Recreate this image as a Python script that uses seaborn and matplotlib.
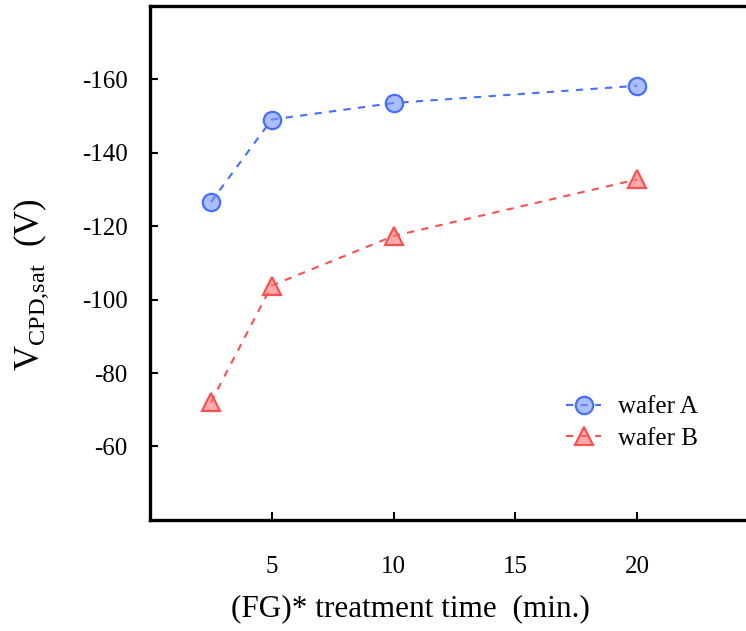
import matplotlib
matplotlib.use("Agg")
import matplotlib.pyplot as plt
import seaborn as sns
import pandas as pd

# Saturated contact potential difference vs. treatment time
time_a = [2.5, 5, 10, 20]
vcpd_a = [-126.5, -149.0, -153.5, -158.2]
time_b = [2.5, 5, 10, 20]
vcpd_b = [-72.0, -103.8, -117.3, -132.7]
x_ticks = [5, 10, 15, 20]
y_ticks = [-160, -140, -120, -100, -80, -60]

sns.set_theme(style="white")
plt.rcParams["font.family"] = ["Liberation Serif", "DejaVu Serif"]
plt.rcParams["mathtext.fontset"] = "custom"
plt.rcParams["mathtext.rm"] = "Liberation Serif"
plt.rcParams["axes.unicode_minus"] = False
plt.rcParams["text.color"] = "black"
plt.rcParams["axes.labelcolor"] = "black"

fig = plt.figure(figsize=(7.46, 6.31), dpi=100)
ax = fig.add_axes([0.201, 0.176, 0.80, 0.815])

df_a = pd.DataFrame({"t": time_a, "v": vcpd_a})
df_b = pd.DataFrame({"t": time_b, "v": vcpd_b})

blue = "#4670fa"
red = "#fa5050"

sns.lineplot(data=df_a, x="t", y="v", ax=ax, color=blue, linestyle=(0, (3.5, 3.5)),
             linewidth=1.5, marker="o", markersize=12.5, markerfacecolor=(0.45, 0.58, 1.0, 0.6),
             markeredgecolor=blue, markeredgewidth=1.6, label="wafer A")
sns.lineplot(data=df_b, x="t", y="v", ax=ax, color=red, linestyle=(0, (3.5, 3.5)),
             linewidth=1.5, marker="^", markersize=13.5, markerfacecolor=(1.0, 0.45, 0.45, 0.6),
             markeredgecolor=red, markeredgewidth=1.6, label="wafer B")

ax.set_xlim(0, 24.5)
ax.set_ylim(-40, -180)
ax.set_xticks(x_ticks)
ax.set_yticks(y_ticks)
ax.tick_params(axis="both", direction="in", length=6, width=1.5, labelsize=18,
               colors="black", bottom=True, left=True)
ax.tick_params(axis="y", pad=16)
ax.tick_params(axis="x", pad=26)

for side in ["left", "bottom", "top"]:
    ax.spines[side].set_linewidth(2.4)
    ax.spines[side].set_color("black")
ax.spines["right"].set_visible(False)

ax.set_xlabel("(FG)* treatment time  (min.)", fontsize=22.5)
ax.xaxis.set_label_coords(0.436, -0.145)
ax.set_ylabel(r"V$_{\mathrm{CPD{,}sat}}$  (V)", fontsize=25)
ax.yaxis.set_label_coords(-0.165, 0.458)

leg = ax.legend(loc="upper left", bbox_to_anchor=(0.66, 0.285), frameon=False,
                fontsize=18, handlelength=1.4, handletextpad=0.65, labelspacing=0.35)

fig.savefig("out.png", dpi=100)
